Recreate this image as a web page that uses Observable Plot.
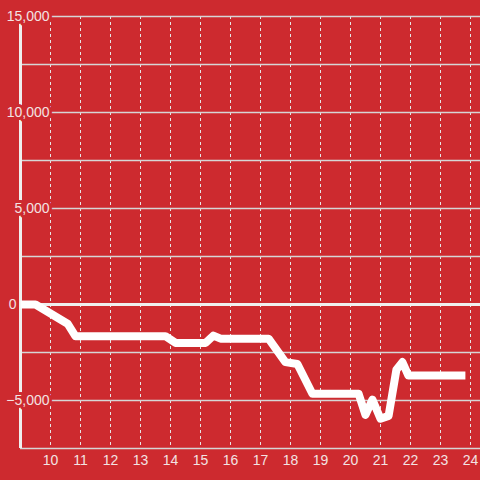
<!DOCTYPE html>
<html>
<head>
<meta charset="utf-8">
<script src="https://cdn.jsdelivr.net/npm/d3@7"></script>
<script src="https://cdn.jsdelivr.net/npm/@observablehq/plot@0.6"></script>
<style>
  html, body { margin: 0; padding: 0; background: #cd2a2f; }
  #chart { width: 480px; height: 480px; }
</style>
</head>
<body>
<div id="chart"></div>
<script>
// Series (hour of day, value)
const hours  = [9, 9.5, 10.57, 10.83, 13.83, 14.17, 15.17, 15.43, 15.67, 17.27, 17.83, 18.23, 18.73, 20.27, 20.5, 20.73, 21.0, 21.27, 21.53, 21.73, 21.93, 23.83];
const values = [0, 0, -1000, -1650, -1650, -2000, -2000, -1620, -1780, -1780, -3000, -3100, -4650, -4650, -5750, -4950, -5950, -5800, -3400, -3000, -3700, -3700];

// Axes
const xTicks = [10, 11, 12, 13, 14, 15, 16, 17, 18, 19, 20, 21, 22, 23, 24];
const yLabels = [-5000, 5000, 10000, 15000];
const yGrid = [-7500, -5000, -2500, 2500, 5000, 7500, 10000, 12500, 15000];

const data = hours.map((h, i) => ({hour: h, value: values[i]}));
const bg = "#cd2a2f";
const txt = "#f3e3e3";
const fmt = d3.format(",");

const chart = Plot.plot({
  width: 480,
  height: 480,
  marginLeft: 20,
  marginRight: 0,
  marginTop: 16,
  marginBottom: 32,
  style: {background: bg, fontFamily: "Liberation Sans, Arial, sans-serif", fontSize: "14px", color: txt},
  x: {domain: [9, 9 + 460 / 30], axis: null},
  y: {domain: [-7500, 15000], axis: null},
  marks: [
    Plot.ruleX(xTicks, {stroke: "#e6e6e6", strokeWidth: 1, strokeDasharray: "3,3"}),
    Plot.ruleY(yGrid, {stroke: "#d6d6d6", strokeWidth: 1.3}),
    Plot.ruleY([0], {stroke: "#efefef", strokeWidth: 3}),
    Plot.ruleX([9], {stroke: "#efefef", strokeWidth: 3}),
    Plot.line(data, {x: "hour", y: "value", stroke: "#ffffff", strokeWidth: 8, curve: "linear", strokeLinejoin: "round", strokeLinecap: "butt"}),
    Plot.text(yLabels, {x: 9, y: d => d, text: d => fmt(d), textAnchor: "end", dx: 29, fill: txt, stroke: bg, strokeWidth: 6, fontSize: 14}),
    Plot.text([0], {x: 9, y: d => d, text: d => fmt(d), textAnchor: "end", dx: -4, fill: txt, fontSize: 14}),
    Plot.axisX(xTicks, {tickSize: 0, tickPadding: 7, fontSize: 14, fill: txt, color: txt, label: null, tickFormat: d => String(d)})
  ]
});
document.getElementById("chart").appendChild(chart);
</script>
</body>
</html>
